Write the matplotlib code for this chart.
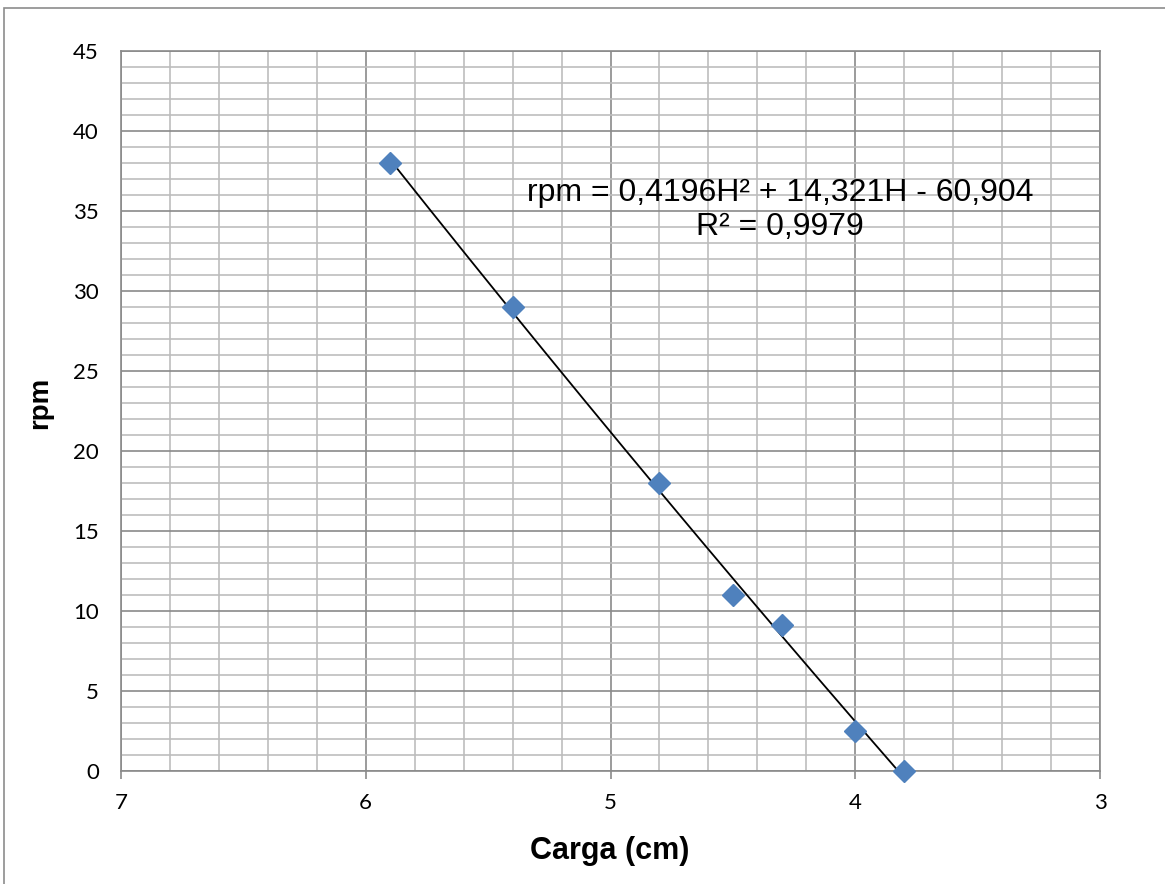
import numpy as np
import matplotlib
matplotlib.use("Agg")
import matplotlib.pyplot as plt
from matplotlib.ticker import MultipleLocator
from matplotlib.patches import Rectangle

# Data
carga_cm = [5.9, 5.4, 4.8, 4.5, 4.3, 4.0, 3.8]
rpm = [38, 29, 18, 11, 9.1, 2.5, 0]
# Trendline coefficients as displayed (a*H^2 + b*H + c)
fit_coef = [0.4196, 14.321, -60.904]
eq_text = "rpm = 0,4196H² + 14,321H - 60,904"
r2_text = "R² = 0,9979"
x_ticks = [7, 6, 5, 4, 3]
y_ticks = [0, 5, 10, 15, 20, 25, 30, 35, 40, 45]

plt.rcParams['font.family'] = ['Liberation Sans', 'DejaVu Sans']

fig = plt.figure(figsize=(11.65, 8.84), dpi=100)
ax = fig.add_axes([121/1165, 1-771/884, (1100-121)/1165, (771-51)/884])

# figure border (only left/top visible)
fig.patches.append(Rectangle((4/1165, -0.05), 1.2, 1-8/884+0.05, transform=fig.transFigure,
                             fill=False, edgecolor='#8c8c8c', linewidth=1.2, zorder=0))

ax.set_xlim(7, 3)
ax.set_ylim(0, 45)
ax.set_xticks(x_ticks)
ax.set_yticks(y_ticks)
ax.xaxis.set_minor_locator(MultipleLocator(0.2))
ax.yaxis.set_minor_locator(MultipleLocator(1))
ax.grid(which='major', color='#8a8a8a', linewidth=1.2)
ax.grid(which='minor', color='#bdbdbd', linewidth=1.2)
ax.set_axisbelow(True)
ax.tick_params(which='minor', length=0)
ax.tick_params(axis='x', which='major', direction='out', length=6, width=1.2,
               color='#8a8a8a', pad=10, labelsize=16, labelfontfamily='Lato')
ax.tick_params(axis='y', which='major', length=0, pad=16, labelsize=16,
               labelfontfamily='Lato')
for s in ax.spines.values():
    s.set_color('#8a8a8a')
    s.set_linewidth(1.2)

# trendline
h = np.linspace(max(carga_cm), min(carga_cm), 200)
ax.plot(h, np.polyval(fit_coef, h), color='black', linewidth=1.3, zorder=3)
ax.plot(carga_cm, rpm, linestyle='none', marker='D', markersize=11,
        color='#4f81bd', markeredgecolor='#4f81bd', zorder=4, clip_on=False)

ax.text(4.307, 36.125, eq_text, fontsize=23, ha='center', va='center', zorder=5)
ax.text(4.307, 34.0, r2_text, fontsize=23, ha='center', va='center', zorder=5)

ax.set_xlabel("Carga (cm)", fontsize=22, fontweight='bold')
ax.set_ylabel("rpm", fontsize=20, fontweight='bold')
ax.xaxis.set_label_coords(0.499, -(851-771)/720, transform=ax.transAxes)
ax.xaxis.label.set_va('center')
ax.yaxis.set_label_coords(-(121-40)/979, (771-403)/720, transform=ax.transAxes)
ax.yaxis.label.set_va('center')

fig.savefig("out.png", dpi=100)
